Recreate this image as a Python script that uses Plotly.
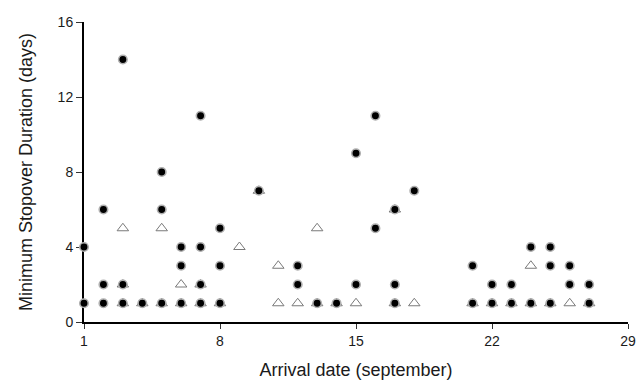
import plotly.graph_objects as go

# Filled circles (black)
circle_day = [1, 1, 2, 2, 2, 3, 3, 3, 4, 5, 5, 5, 6, 6, 6, 7, 7, 7, 7, 8, 8, 8,
              10, 12, 12, 13, 14, 15, 15, 16, 16, 17, 17, 17, 18,
              21, 21, 22, 22, 23, 23, 24, 24, 25, 25, 25, 26, 26, 27, 27]
circle_dur = [4, 1, 6, 2, 1, 14, 2, 1, 1, 8, 6, 1, 4, 3, 1, 11, 4, 2, 1, 5, 3, 1,
              7, 3, 2, 1, 1, 9, 2, 11, 5, 6, 2, 1, 7,
              3, 1, 2, 1, 2, 1, 4, 1, 4, 3, 1, 3, 2, 2, 1]

# Open triangles
tri_day = [3, 3, 3, 4, 5, 5, 6, 6, 7, 7, 8, 9, 10, 11, 11, 12, 13, 13, 14, 15,
           17, 17, 18, 21, 22, 23, 24, 24, 25, 26, 27]
tri_dur = [5, 2, 1, 1, 5, 1, 2, 1, 2, 1, 1, 4, 7, 3, 1, 1, 5, 1, 1, 1,
           6, 1, 1, 1, 1, 1, 3, 1, 1, 1, 1]

x_ticks = [1, 8, 15, 22, 29]
y_ticks = [0, 4, 8, 12, 16]

fig = go.Figure()
fig.add_trace(go.Scatter(
    x=tri_day, y=tri_dur, mode="markers", cliponaxis=False,
    marker=dict(symbol="triangle-up-open", size=10, color="#7a7a7a",
                line=dict(width=1, color="#7a7a7a")),
    showlegend=False))
fig.add_trace(go.Scatter(
    x=circle_day, y=circle_dur, mode="markers", cliponaxis=False,
    marker=dict(symbol="circle", size=8.5, color="#000000",
                line=dict(width=1.6, color="#b0b0b0")),
    showlegend=False))

font_family = "Liberation Sans, Arial, Helvetica, sans-serif"
fig.update_layout(
    width=644, height=387,
    margin=dict(l=84, r=16, t=22, b=65, autoexpand=False),
    paper_bgcolor="white", plot_bgcolor="white",
    font=dict(family=font_family, size=14, color="#1a1a1a"),
    xaxis=dict(
        range=[1, 29], tickvals=x_ticks, ticktext=[str(v) for v in x_ticks],
        showgrid=False, zeroline=False, showline=True, linecolor="black", linewidth=2,
        ticks="outside", ticklen=5, tickwidth=1, tickcolor="#333",
        layer="below traces", automargin=False,
        title=dict(text="Arrival date (september)", font=dict(size=18), standoff=16),
        tickfont=dict(size=14),
    ),
    yaxis=dict(
        range=[0, 16], tickvals=y_ticks, ticktext=[str(v) for v in y_ticks],
        showgrid=False, zeroline=False, showline=True, linecolor="black", linewidth=2,
        ticks="outside", ticklen=6, tickwidth=1, tickcolor="#333",
        layer="below traces", automargin=False,
        title=dict(text="Minimum Stopover Duration (days)", font=dict(size=18), standoff=20),
        tickfont=dict(size=14),
    ),
)

fig.write_html("out.html", config={"displayModeBar": False},
               post_script="document.body.style.margin='0px';document.body.style.overflow='hidden';")
